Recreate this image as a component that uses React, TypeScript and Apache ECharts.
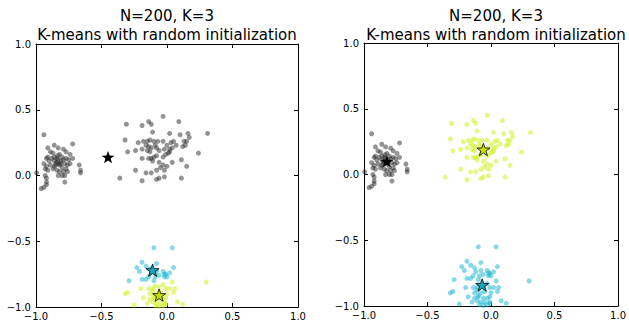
import React, { useEffect, useRef } from "react";
import * as echarts from "echarts";

// Data points (same dataset in both panels)
const leftCluster: number[][] = [
  [-0.94, 0.31], [-0.72, 0.24], [-0.86, 0.23], [-0.91, 0.21], [-0.83, 0.21], [-0.79, 0.2],
  [-0.89, 0.18], [-0.87, 0.17], [-0.82, 0.16], [-0.77, 0.18], [-0.74, 0.16], [-0.72, 0.13],
  [-0.92, 0.13], [-0.91, 0.14], [-0.88, 0.13], [-0.86, 0.14], [-0.84, 0.13], [-0.8, 0.14],
  [-0.79, 0.12], [-0.77, 0.13], [-0.75, 0.12], [-0.9, 0.11], [-0.86, 0.11], [-0.83, 0.09],
  [-0.81, 0.11], [-0.78, 0.09], [-0.76, 0.08], [-0.74, 0.09], [-0.94, 0.09], [-0.92, 0.07],
  [-0.89, 0.08], [-0.86, 0.07], [-0.82, 0.08], [-0.8, 0.06], [-0.77, 0.05], [-0.87, 0.05],
  [-0.84, 0.04], [-0.82, 0.03], [-0.79, 0.03], [-0.76, 0.03], [-0.93, 0.05], [-0.91, 0.04],
  [-0.67, 0.08], [-0.66, 0.04], [-0.66, 0.02], [-0.83, 0.0], [-0.8, 0.0], [-0.78, 0.0],
  [-0.995, 0.02], [-0.93, 0.0], [-0.92, -0.02], [-0.92, -0.05], [-0.92, -0.07], [-0.94, -0.09],
  [-0.96, -0.1], [-0.78, -0.05], [-0.845, 0.1], [-0.83, 0.12], [-0.81, 0.09], [-0.85, 0.08],
  [-0.835, 0.15],
];

const middleCluster: number[][] = [
  [-0.03, 0.45], [0.09, 0.41], [-0.31, 0.39], [-0.19, 0.38], [-0.14, 0.41], [-0.12, 0.39],
  [-0.11, 0.33], [0.02, 0.32], [0.31, 0.32], [0.1, 0.31], [0.16, 0.32], [0.17, 0.29],
  [-0.32, 0.27], [-0.22, 0.25], [-0.18, 0.26], [-0.15, 0.26], [-0.13, 0.27], [-0.1, 0.26],
  [-0.07, 0.26], [-0.03, 0.26], [0.05, 0.26], [0.13, 0.26], [0.15, 0.26], [0.12, 0.22],
  [0.14, 0.23], [-0.16, 0.23], [-0.14, 0.22], [-0.12, 0.21], [-0.09, 0.23], [-0.08, 0.21],
  [0.0, 0.23], [0.03, 0.25], [-0.3, 0.18], [-0.24, 0.19], [-0.19, 0.2], [-0.15, 0.19],
  [-0.13, 0.18], [-0.06, 0.19], [-0.02, 0.2], [0.02, 0.2], [0.04, 0.21], [0.07, 0.23],
  [0.24, 0.17], [-0.12, 0.13], [-0.14, 0.13], [-0.19, 0.13], [-0.1, 0.14], [-0.08, 0.15],
  [-0.03, 0.14], [-0.01, 0.16], [0.01, 0.17], [0.02, 0.18], [0.11, 0.12], [-0.11, 0.11],
  [-0.06, 0.1], [0.0, 0.07], [0.04, 0.1], [0.15, 0.07], [-0.24, 0.04], [-0.16, 0.02],
  [-0.12, 0.02], [-0.08, 0.04], [-0.05, 0.06], [-0.03, 0.08], [-0.02, 0.04], [-0.36, -0.02],
  [-0.19, -0.04], [-0.08, -0.03], [-0.06, -0.02], [-0.02, -0.01], [0.11, -0.02],
];

// bottom cluster, upper part (cyan in the left panel)
const bottomUpper: number[][] = [
  [-0.1, -0.55], [0.04, -0.55], [-0.19, -0.66], [-0.23, -0.7], [-0.16, -0.69], [-0.08, -0.67],
  [-0.13, -0.71], [-0.21, -0.73], [-0.12, -0.74], [-0.08, -0.73], [-0.03, -0.73], [-0.01, -0.75],
  [0.02, -0.74], [0.05, -0.7], [-0.06, -0.76], [-0.02, -0.77], [0.0, -0.77], [-0.09, -0.77],
  [-0.1, -0.8], [-0.14, -0.77], [-0.19, -0.79], [-0.16, -0.79], [-0.29, -0.8], [-0.02, -0.75],
];

// bottom cluster, lower part (yellow in the left panel)
const bottomLower: number[][] = [
  [0.3, -0.81], [-0.3, -0.89], [-0.32, -0.9], [-0.2, -0.86], [-0.14, -0.86], [-0.11, -0.86],
  [-0.09, -0.84], [-0.06, -0.85], [-0.03, -0.83], [-0.01, -0.86], [0.02, -0.86], [0.04, -0.81],
  [0.06, -0.86], [-0.05, -0.89], [-0.08, -0.9], [-0.11, -0.88], [-0.13, -0.9], [-0.18, -0.93],
  [-0.13, -0.94], [-0.1, -0.93], [-0.06, -0.94], [-0.03, -0.94], [-0.01, -0.93], [-0.01, -0.97],
  [-0.05, -0.97], [-0.08, -0.97], [-0.11, -0.96], [-0.15, -0.97], [-0.09, -0.99], [-0.06, -0.995],
  [-0.03, -0.99], [-0.01, -0.98], [-0.1, -0.92], [0.0, -0.9], [-0.25, -0.985], [0.08, -0.96],
  [0.12, -0.98], [0.05, -0.89],
];

// cluster centres (stars)
const leftCenters = { gray: [-0.45, 0.14], cyan: [-0.11, -0.72], yellow: [-0.06, -0.91] };
const rightCenters = { gray: [-0.82, 0.1], cyan: [-0.07, -0.84], yellow: [-0.06, 0.19] };

const tickValues = [-1, -0.5, 0, 0.5, 1];
const tickLabels = ["\u22121.0", "\u22120.5", "0.0", "0.5", "1.0"];
const titleLine1 = "N=200, K=3";
const titleLine2 = "K-means with random initialization";

const STAR =
  "path://M50 0 L61.76 33.82 L97.55 34.55 L69.02 56.18 L79.39 90.45 L50 70 L20.61 90.45 L30.98 56.18 L2.45 34.55 L38.24 33.82 Z";

const FONT = "DejaVu Sans";
const GRAY = "rgba(30,30,30,0.6)";
const CYAN = "rgba(23,183,207,0.65)";
const YELLOW = "rgba(205,238,10,0.62)";
const CYAN_STAR = "#1aa3bf";
const YELLOW_STAR = "#c8e000";

const fmt = (v: number) => {
  const i = tickValues.findIndex((t) => Math.abs(t - v) < 1e-6);
  return i >= 0 ? tickLabels[i] : "";
};

function makeAxes(gridIndex: number) {
  const common = {
    gridIndex,
    type: "value" as const,
    min: -1,
    max: 1,
    interval: 0.5,
    splitLine: { show: false },
    axisLine: { show: true, onZero: false, lineStyle: { color: "#000", width: 1 } },
    axisTick: { show: true, inside: true, length: 4, lineStyle: { color: "#000" } },
  };
  const label = {
    show: true,
    formatter: fmt,
    color: "#000",
    fontSize: 10,
    fontFamily: FONT,
    showMinLabel: true,
    showMaxLabel: true,
  };
  return {
    x: [
      { ...common, position: "bottom", axisLabel: { ...label, margin: 4 } },
      { ...common, position: "top", axisLabel: { show: false } },
    ],
    y: [
      { ...common, position: "left", axisLabel: { ...label, margin: 5 } },
      { ...common, position: "right", axisLabel: { show: false } },
    ],
  };
}

function pts(data: number[][], color: string, xi: number, yi: number) {
  return {
    type: "scatter",
    xAxisIndex: xi,
    yAxisIndex: yi,
    data,
    symbol: "circle",
    symbolSize: 5,
    itemStyle: { color, borderWidth: 0 },
    silent: true,
    clip: true,
  };
}

function star(c: number[], color: string, xi: number, yi: number, border: boolean) {
  return {
    type: "scatter",
    xAxisIndex: xi,
    yAxisIndex: yi,
    data: [c],
    symbol: STAR,
    symbolKeepAspect: true,
    symbolSize: 13,
    itemStyle: {
      color,
      opacity: 1,
      borderColor: "#000",
      borderWidth: border ? 0.8 : 0,
    },
    z: 5,
    silent: true,
  };
}

export default function App() {
  const ref = useRef<HTMLDivElement>(null);
  useEffect(() => {
    if (!ref.current) return;
    const chart = echarts.init(ref.current, undefined, { renderer: "svg" });
    const a0 = makeAxes(0);
    const a1 = makeAxes(1);
    const titleStyle = {
      fill: "#000",
      fontSize: 15,
      fontFamily: FONT,
      align: "center",
      verticalAlign: "top",
      lineHeight: 19,
    };
    chart.setOption({
      animation: false,
      backgroundColor: "#fff",
      graphic: [
        { type: "text", x: 167, y: 6, style: { ...titleStyle, text: titleLine1 + "\n" + titleLine2 } },
        { type: "text", x: 496, y: 6, style: { ...titleStyle, text: titleLine1 + "\n" + titleLine2 } },
      ],
      grid: [
        { left: 36, top: 44, width: 262, height: 263 },
        { left: 364, top: 43, width: 264, height: 263 },
      ],
      xAxis: [...a0.x, ...a1.x],
      yAxis: [...a0.y, ...a1.y],
      series: [
        // left panel
        pts(leftCluster, GRAY, 0, 0),
        pts(middleCluster, GRAY, 0, 0),
        pts(bottomUpper, CYAN, 0, 0),
        pts(bottomLower, YELLOW, 0, 0),
        star(leftCenters.gray, "#000", 0, 0, false),
        star(leftCenters.cyan, CYAN_STAR, 0, 0, true),
        star(leftCenters.yellow, YELLOW_STAR, 0, 0, true),
        // right panel
        pts(leftCluster, GRAY, 2, 2),
        pts(middleCluster, YELLOW, 2, 2),
        pts(bottomUpper, CYAN, 2, 2),
        pts(bottomLower, CYAN, 2, 2),
        star(rightCenters.gray, "#000", 2, 2, false),
        star(rightCenters.yellow, YELLOW_STAR, 2, 2, true),
        star(rightCenters.cyan, CYAN_STAR, 2, 2, true),
      ],
    });
    return () => chart.dispose();
  }, []);
  return (
    <div
      ref={ref}
      style={{ position: "absolute", left: 0, top: 0, width: 629, height: 323 }}
    />
  );
}
